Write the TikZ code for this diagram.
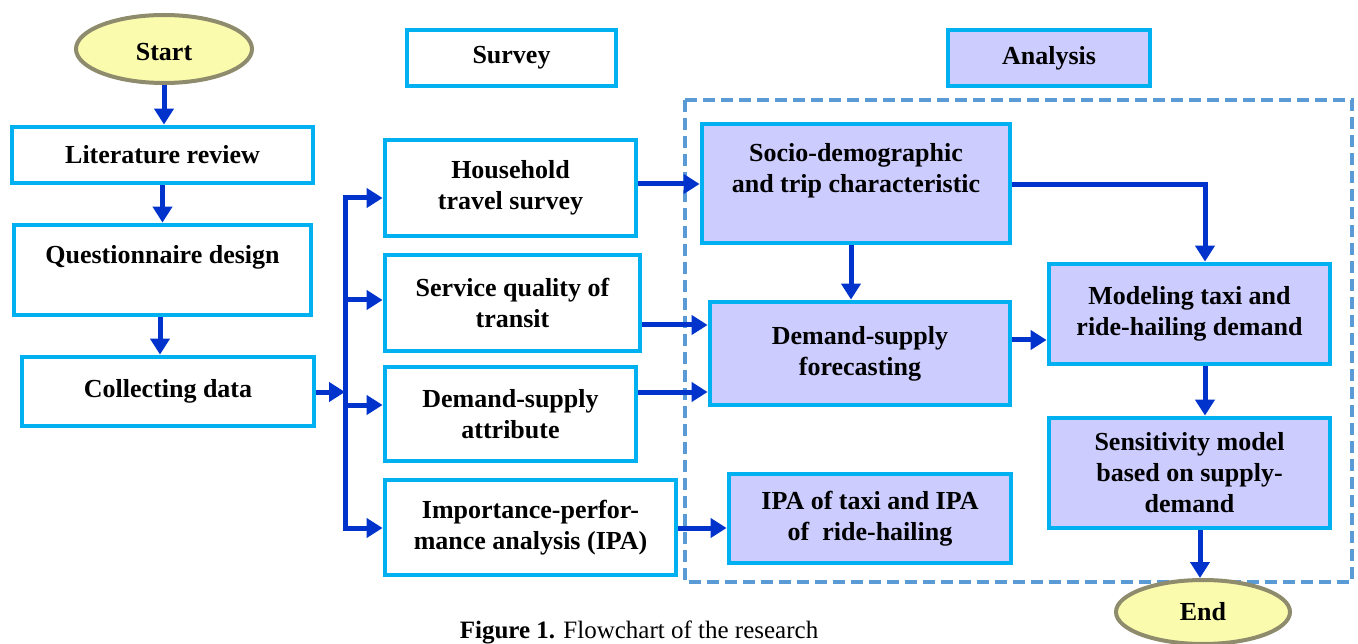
\documentclass[tikz,border=0pt]{standalone}
\usepackage{fontspec}
\setmainfont{Liberation Serif}
\usetikzlibrary{arrows.meta,shapes.geometric,calc}
\definecolor{cyanb}{HTML}{00B0F0}
\definecolor{lav}{HTML}{CCCCFF}
\definecolor{arrb}{HTML}{0033CC}
\definecolor{dashb}{HTML}{5B9BD5}
\definecolor{ellfill}{HTML}{FBFBAE}
\definecolor{elldraw}{HTML}{8E8C6C}
\tikzset{
  box/.style={draw=cyanb, line width=4.8pt, fill=white, align=center, inner sep=0pt,
    font=\fontsize{26}{31}\selectfont\bfseries},
  abox/.style={box, fill=lav},
  oval/.style={ellipse, draw=elldraw, line width=4pt, fill=ellfill, inner sep=0pt,
    font=\fontsize{26}{31}\selectfont\bfseries},
  arr/.style={draw=arrb, line width=5pt, -{Triangle[length=16pt,width=19pt]}},
  busline/.style={draw=arrb, line width=5pt, line cap=rect},
  frame/.style={draw=dashb, line width=3.4pt, dash pattern=on 12pt off 6pt}
}
\begin{document}
\begin{tikzpicture}[x=1pt,y=-1pt]
\useasboundingbox (0,0) rectangle (1358,644);
% dashed frame
\draw[frame] (685,100) rectangle (1352,582);
% left column
\node[oval, minimum width=176pt, minimum height=68pt, text height=23pt] (start) at (164,49) {Start};
\node[box, minimum width=301pt, minimum height=56pt] (lit) at (162.5,155) {Literature review};
\node[box, minimum width=297pt, minimum height=90pt] (quest) at (162.5,270) {Questionnaire design\\ \mbox{}};
\node[box, minimum width=292pt, minimum height=69pt] (coll) at (168,391.5) {Collecting data};
% headers
\node[box, minimum width=209pt, minimum height=56pt] (survey) at (511.5,58) {Survey};
\node[abox, minimum width=202pt, minimum height=56pt] (analysis) at (1049,58) {Analysis};
% survey column
\node[box, minimum width=251pt, minimum height=96pt] (house) at (510.5,188) {Household\\travel survey};
\node[box, minimum width=255pt, minimum height=96pt] (serv) at (512.5,303) {Service quality of\\transit};
\node[box, minimum width=251pt, minimum height=94pt] (dem) at (510.5,414) {Demand-supply\\attribute};
\node[box, minimum width=291pt, minimum height=95pt] (imp) at (530.5,527.5) {Importance-perfor-\\mance analysis (IPA)};
% analysis column
\node[abox, minimum width=308pt, minimum height=119pt] (socio) at (856,183.5) {Socio-demographic\\and trip characteristic\\ \mbox{}};
\node[abox, minimum width=300pt, minimum height=103pt] (fore) at (860,353.5) {Demand-supply\\forecasting};
\node[abox, minimum width=281pt, minimum height=100pt] (model) at (1189.5,314) {Modeling taxi and\\ride-hailing demand};
\node[abox, minimum width=281pt, minimum height=110pt] (sens) at (1189.5,473) {Sensitivity model\\based on supply-\\demand};
\node[abox, minimum width=282pt, minimum height=89pt] (ipa) at (870,518.5) {IPA of taxi and IPA\\of~~ride-hailing};
\node[oval, minimum width=174pt, minimum height=64pt] (end) at (1203,612) {End};
% caption
\node[font=\fontsize{25}{29}\selectfont, anchor=base] (cap) at (639,638) {\textbf{Figure 1.} Flowchart of the research};
% helper coordinates
\coordinate (bustop) at (345,198);
\coordinate (busbot) at (345,528);
\coordinate (ycoll) at (0,392);
\coordinate (yh) at (0,198);
\coordinate (ys) at (0,300);
\coordinate (yd) at (0,405);
\coordinate (yi) at (0,528);
\coordinate (yh2) at (0,184);
\coordinate (ys2) at (0,325);
\coordinate (yd2) at (0,392);
\coordinate (yi2) at (0,528);
\coordinate (yso) at (0,185);
\coordinate (yfo) at (0,340);
\coordinate (xa) at (851,0);
\coordinate (xm) at (1205,0);
\coordinate (xe) at (1200,0);
% connectors
\draw[arr] (start.south) -- (start.south |- lit.north);
\draw[arr] (lit.south) -- (lit.south |- quest.north);
\draw[arr] ([xshift=-2.5pt]quest.south) -- ([xshift=-2.5pt]quest.south |- coll.north);
\draw[arr] (coll.east |- ycoll) -- (bustop |- ycoll);
\draw[busline] (bustop) -- (busbot);
\draw[arr] (bustop |- yh) -- (house.west |- yh);
\draw[arr] (bustop |- ys) -- (serv.west |- ys);
\draw[arr] (bustop |- yd) -- (dem.west |- yd);
\draw[arr] (busbot |- yi) -- (imp.west |- yi);
\draw[arr] (house.east |- yh2) -- (socio.west |- yh2);
\draw[arr] (serv.east |- ys2) -- (fore.west |- ys2);
\draw[arr] (dem.east |- yd2) -- (fore.west |- yd2);
\draw[arr] (imp.east |- yi2) -- (ipa.west |- yi2);
\draw[arr] (xa |- socio.south) -- (xa |- fore.north);
\draw[arr] (socio.east |- yso) -| (xm |- model.north);
\draw[arr] (fore.east |- yfo) -- (model.west |- yfo);
\draw[arr] (xm |- model.south) -- (xm |- sens.north);
\draw[arr] (xe |- sens.south) -- (xe |- end.north);
\end{tikzpicture}
\end{document}
